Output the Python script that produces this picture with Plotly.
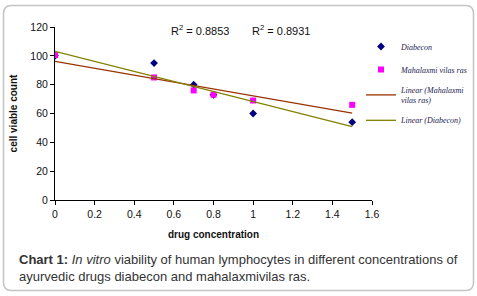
import numpy as np
import plotly.graph_objects as go

# ---- data ----
conc = [0, 0.5, 0.7, 0.8, 1.0, 1.5]
diabecon = [100, 95, 80, 73, 60, 54]
mahalaxmi = [100.5, 85, 76, 73, 69, 66]
x_ticks = [0, 0.2, 0.4, 0.6, 0.8, 1.0, 1.2, 1.4, 1.6]
y_ticks = [0, 20, 40, 60, 80, 100, 120]
r2_labels = ["R<sup>2</sup> = 0.8853", "R<sup>2</sup> = 0.8931"]

W, H = 477, 296
ML, MR, MT, MB = 55, 105, 27, 96
PW, PH = W - ML - MR, H - MT - MB


def px(xp):
    return (xp - ML) / PW


def py(yp):
    return (H - MB - yp) / PH


fig = go.Figure()

fig.add_trace(go.Scatter(
    x=conc, y=diabecon, mode="markers", name="Diabecon", legendgroup="a",
    marker=dict(symbol="diamond", color="#000080", size=6)))
fig.add_trace(go.Scatter(
    x=conc, y=mahalaxmi, mode="markers", name="Mahalaxmi vilas ras", legendgroup="b",
    marker=dict(symbol="square", color="#FF00FF", size=6)))

xs = np.array(conc)
for ys, name, col, grp in [
    (mahalaxmi, "Linear (Mahalaxmi<br>vilas ras)", "#993300", "c"),
    (diabecon, "Linear (Diabecon)", "#808000", "d"),
]:
    m, b = np.polyfit(xs, np.array(ys), 1)
    xl = np.array([xs.min(), xs.max()])
    fig.add_trace(go.Scatter(x=xl, y=m * xl + b, mode="lines", name=name, legendgroup=grp,
                             line=dict(color=col, width=1.3)))

annotations = [
    dict(text=r2_labels[0], x=px(200), y=py(30), xref="paper", yref="paper",
         xanchor="center", yanchor="middle",
         showarrow=False, font=dict(size=11, color="#111")),
    dict(text=r2_labels[1], x=px(281), y=py(30), xref="paper", yref="paper",
         xanchor="center", yanchor="middle",
         showarrow=False, font=dict(size=11, color="#111")),
    dict(text="<b>Chart 1:</b> <i>In vitro</i> viability of human lymphocytes in different concentrations of"
              "<br>ayurvedic drugs diabecon and mahalaxmivilas ras.",
         x=px(17), y=py(250), xref="paper", yref="paper", xanchor="left", yanchor="top",
         align="left", showarrow=False, font=dict(size=13, color="#333333", family="Liberation Sans, Arial")),
]

# rounded border
x0, x1, y0, y1, r = 3.5, 473.5, 5.5, 290.5, 8
path = (f"M {px(x0 + r)},{py(y0)} L {px(x1 - r)},{py(y0)} "
        f"Q {px(x1)},{py(y0)} {px(x1)},{py(y0 + r)} L {px(x1)},{py(y1 - r)} "
        f"Q {px(x1)},{py(y1)} {px(x1 - r)},{py(y1)} L {px(x0 + r)},{py(y1)} "
        f"Q {px(x0)},{py(y1)} {px(x0)},{py(y1 - r)} L {px(x0)},{py(y0 + r)} "
        f"Q {px(x0)},{py(y0)} {px(x0 + r)},{py(y0)} Z")

fig.update_layout(
    width=W, height=H,
    margin=dict(l=ML, r=MR, t=MT, b=MB, autoexpand=False),
    paper_bgcolor="white", plot_bgcolor="white",
    font=dict(family="Liberation Sans, Arial", size=10.5, color="#111"),
    showlegend=True,
    legend=dict(x=px(361), y=py(32), xanchor="left", yanchor="top",
                font=dict(family="Liberation Serif, Times New Roman", size=8, color="#1a1a50",
                          style="italic"),
                tracegroupgap=4, bgcolor="rgba(0,0,0,0)", itemwidth=30),
    annotations=annotations,
    shapes=[dict(type="path", path=path, xref="paper", yref="paper",
                 line=dict(color="#c4c4c4", width=1.5), layer="below")],
    xaxis=dict(range=[0, 1.6], tickvals=x_ticks, ticktext=[f"{v:g}" for v in x_ticks],
               showgrid=False, zeroline=False, showline=True, linecolor="black", linewidth=1,
               ticks="outside", ticklen=4, tickcolor="black", automargin=False,
               title=dict(text="<b>drug concentration</b>", font=dict(size=10), standoff=12)),
    yaxis=dict(range=[0, 120], tickvals=y_ticks, showgrid=False, zeroline=False,
               showline=True, linecolor="black", linewidth=1, automargin=False,
               ticks="outside", ticklen=4, tickcolor="black",
               title=dict(text="<b>cell viable count</b>", font=dict(size=10), standoff=10)),
)

fig.write_html("out.html", config={"displayModeBar": False},
               post_script="document.body.style.margin='0';document.body.style.padding='0';")
